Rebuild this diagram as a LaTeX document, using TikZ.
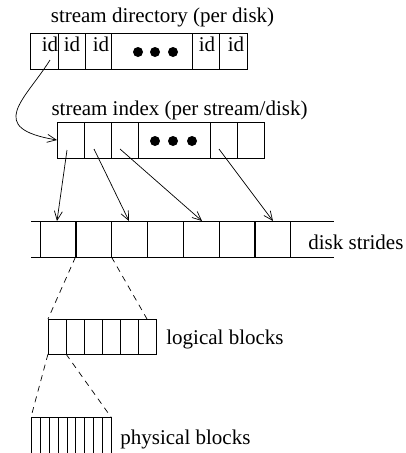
\documentclass[tikz,border=0pt]{standalone}
\usepackage{fontspec}
\setmainfont{Liberation Serif}
\usetikzlibrary{arrows.meta}
\begin{document}
\begin{tikzpicture}[x=1pt,y=-1pt, line width=0.8pt,
  lbl/.style={font=\fontsize{21}{24}\selectfont, inner sep=0pt},
  cellbox/.style={draw, inner sep=0pt, outer sep=0pt, line width=0.8pt},
  arr/.style={-{Straight Barb[length=9pt,width=8pt]}, line width=0.7pt},
  dsh/.style={dash pattern=on 6pt off 5pt, line width=0.7pt},
  dot/.style={circle, fill, inner sep=0pt, minimum size=10pt}]
\useasboundingbox (0,0) rectangle (406,453);

% stream directory
\node[lbl] (dirt) at (162.5,17) {stream directory (per disk)};
\node[cellbox, minimum width=28pt, minimum height=36pt] (d1) at (44,51) {};
\node[cellbox, minimum width=27pt, minimum height=36pt] (d2) at (71.5,51) {};
\node[cellbox, minimum width=26pt, minimum height=36pt] (d3) at (98,51) {};
\node[cellbox, minimum width=81pt, minimum height=36pt] (d4) at (151.5,51) {};
\node[cellbox, minimum width=27pt, minimum height=36pt] (d5) at (205.5,51) {};
\node[cellbox, minimum width=28pt, minimum height=36pt] (d6) at (233,51) {};
\node[lbl] (id1) at (50,44) {id};
\node[lbl] (id2) at (72,44) {id};
\node[lbl] (id3) at (101,44) {id};
\node[lbl] (id5) at (207,44) {id};
\node[lbl] (id6) at (236,44) {id};
\node[dot] (dd1) at (138,52) {};
\node[dot] (dd2) at (155,52) {};
\node[dot] (dd3) at (173,52) {};

% stream index
\node[lbl] (idxt) at (179.5,110) {stream index (per stream/disk)};
\node[cellbox, minimum width=27pt, minimum height=36pt] (i1) at (70.5,140) {};
\node[cellbox, minimum width=27pt, minimum height=36pt] (i2) at (97.5,140) {};
\node[cellbox, minimum width=27pt, minimum height=36pt] (i3) at (124.5,140) {};
\node[cellbox, minimum width=72pt, minimum height=36pt] (i4) at (174,140) {};
\node[cellbox, minimum width=27pt, minimum height=36pt] (i5) at (223.5,140) {};
\node[cellbox, minimum width=27pt, minimum height=36pt] (i6) at (250.5,140) {};
\node[dot] (id1d) at (155,141) {};
\node[dot] (id2d) at (173,141) {};
\node[dot] (id3d) at (192,141) {};

% curved pointer
\coordinate (c0) at (50,60);
\draw[arr] (c0) .. controls (25,100) and (-15,128) .. (i1.west);

% disk strides
\foreach \k/\x in {1/58,2/93.5,3/129,4/165,5/201,6/237,7/272.5}
  \node[cellbox, minimum width=36pt, minimum height=36pt] (s\k) at (\x,239) {};
\coordinate (sl) at (31,221);
\coordinate (sr) at (334,221);
\coordinate (bl) at (31,257);
\coordinate (br) at (334,257);
\draw (sl) -- (sr);
\draw (bl) -- (br);
\node[lbl, anchor=west] (dst) at (308,242) {disk strides};

% index -> strides arrows
\coordinate (a1) at (67,150);
\coordinate (a2) at (94,149);
\coordinate (a3) at (120,149);
\coordinate (a4) at (219,149);
\coordinate (b1) at (57,221);
\coordinate (b2) at (129,221);
\coordinate (b3) at (202,221);
\coordinate (b4) at (273,221);
\draw[arr] (a1) -- (b1);
\draw[arr] (a2) -- (b2);
\draw[arr] (a3) -- (b3);
\draw[arr] (a4) -- (b4);

% logical blocks
\foreach \k in {1,...,6}
  \node[cellbox, minimum width=18pt, minimum height=35pt] (l\k) at (48+18*\k-9,336.5) {};
\node[lbl, anchor=west] (lt) at (166,339) {logical blocks};
\coordinate (lr) at (147,319);
\draw[dsh] (s2.south west) -- (l1.north west);
\draw[dsh] (s2.south east) -- (lr);

% physical blocks
\coordinate (pl) at (31,417);
\coordinate (pr) at (111,417);
\draw (pl) -- (pr);
\foreach \x in {31,40,49,58,67,75,84,93,102,111}
  \draw (\x,417) -- (\x,455);
\node[lbl, anchor=west] (pt) at (120,439) {physical blocks};
\draw[dsh] (l1.south west) -- (pl);
\draw[dsh] (l1.south east) -- (pr);
\end{tikzpicture}
\end{document}
